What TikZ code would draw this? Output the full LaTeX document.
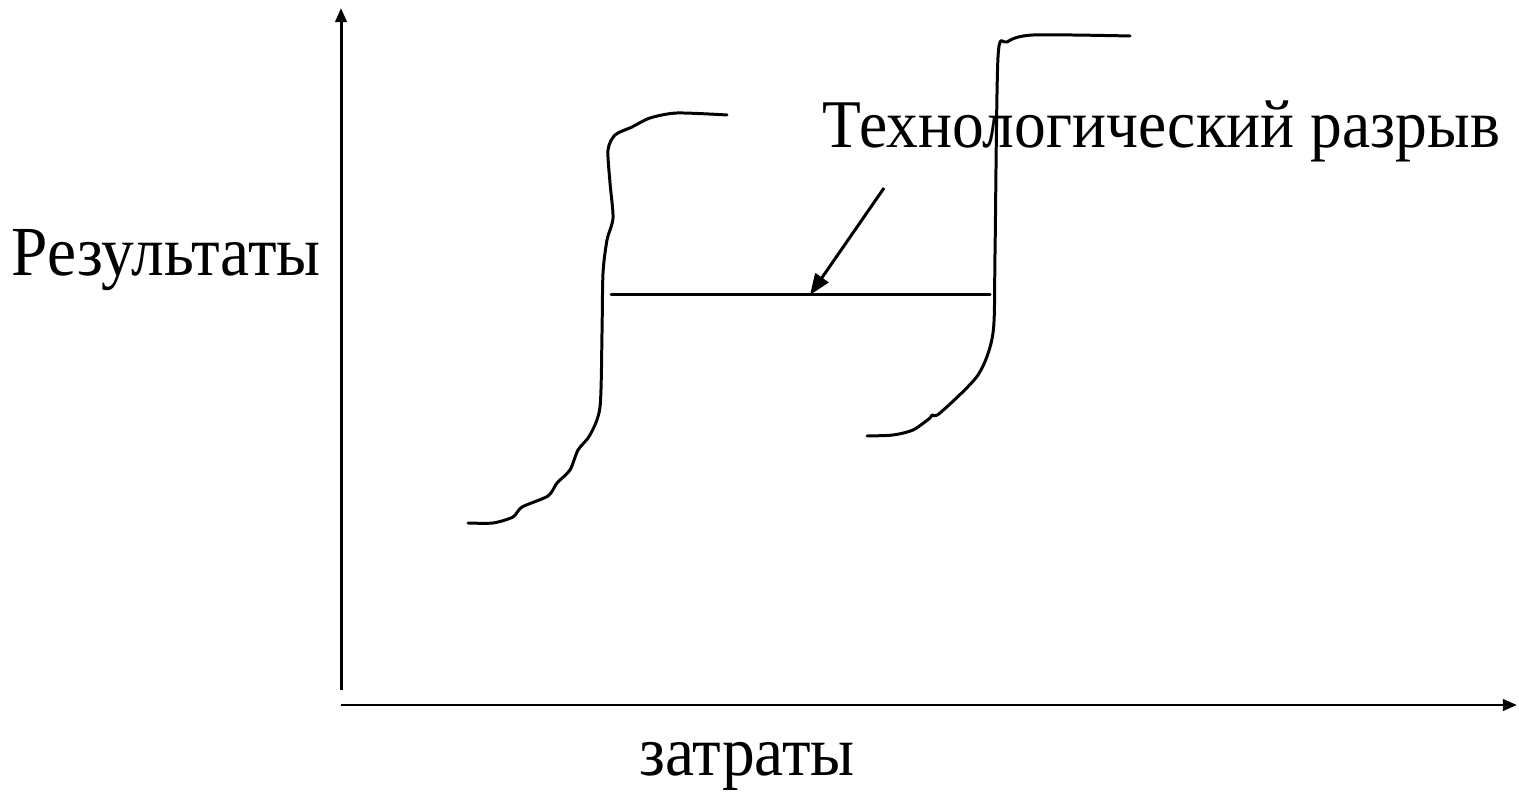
\documentclass[tikz,border=0pt]{standalone}
\usepackage{fontspec}
\setmainfont[FakeStretch=0.93]{Liberation Serif}
\usetikzlibrary{arrows.meta, positioning}

\begin{document}
\begin{tikzpicture}[
  x=0.01cm, y=-0.01cm,
  curve/.style={line width=0.85pt, line join=round, line cap=round},
  axis/.style={line width=0.85pt, -{Triangle[length=4pt, width=3.2pt]}},
  pointer/.style={line width=0.85pt, -{Triangle[length=6pt, width=4.5pt]}},
  lbl/.style={inner sep=0pt, font=\fontsize{20}{24}\selectfont}
]
  \useasboundingbox (0,0) rectangle (1519,792);
  % axes
  \coordinate (origin) at (341,705);
  \coordinate (ybot)   at (341,690);
  \coordinate (ytip)   at (341,8);
  \coordinate (xtip)   at (1517,705);
  \draw[axis] (ybot) -- (ytip);
  \draw[axis] (origin) -- (xtip);
  \node[lbl, anchor=base west] (result) at (11,276) {Результаты};
  \node[lbl, anchor=base west] (cost)   at (639,775) {затраты};
  % first S-curve
  \draw[curve] plot[smooth, tension=0.45] coordinates {
    (468,523) (493,523) (513,517) (522,507) (548,496) (557,483)
    (570,470) (578,450) (590,435) (600,407) (602,333) (603,273)
    (607,240) (613,218) (610,183) (608,150) (615,135) (632,127)
    (650,118) (677,113) (727,115)};
  % second S-curve
  \draw[curve] plot[smooth, tension=0.45] coordinates {
    (867,436) (893,435) (913,430) (930,418) (932,415) (940,413)
    (978,375) (993,333) (995,253) (998,57) (1007,42) (1033,35)
    (1130,36)};
  % gap
  \coordinate (gapleft)  at (611,295);
  \coordinate (gapright) at (990,295);
  \coordinate (gapmid)   at (810,295);
  \coordinate (tail)     at (884,188);
  \draw[curve] (gapleft) -- (gapright);
  \node[lbl, anchor=base west, font=\fontsize{19.4}{23}\selectfont]
    (gaplabel) at (822,148) {Технологический разрыв};
  \draw[pointer] (tail) -- (gapmid);
\end{tikzpicture}
\end{document}
